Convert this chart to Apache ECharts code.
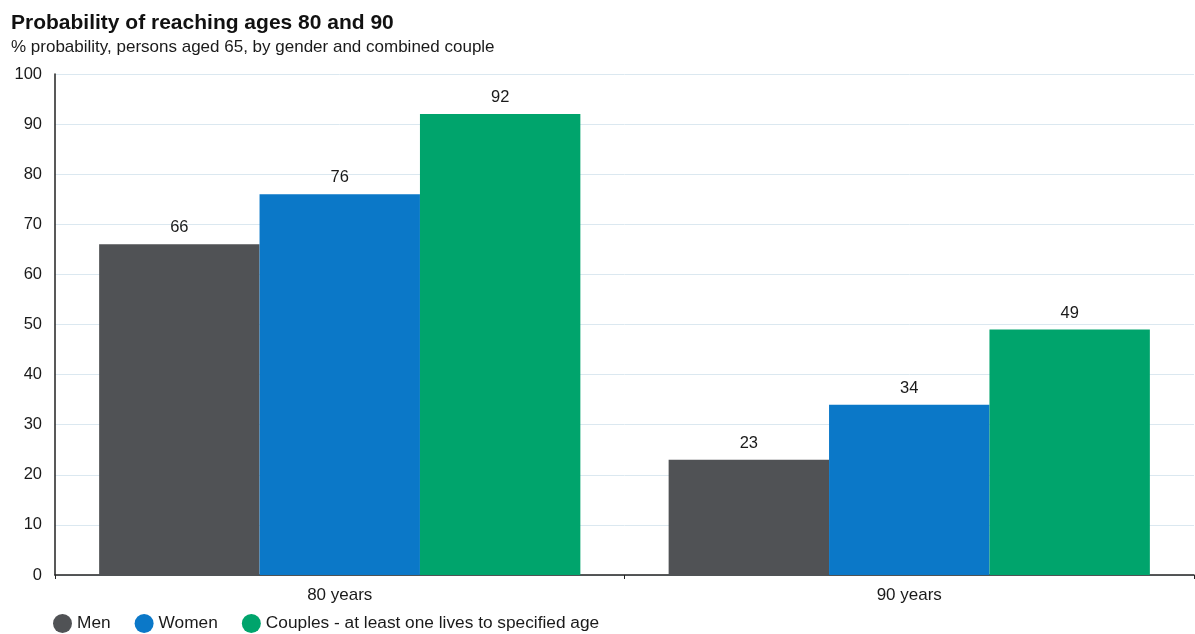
<!DOCTYPE html>
<html><head><meta charset="utf-8">
<script src="https://cdn.jsdelivr.net/npm/echarts@6/dist/echarts.min.js"></script>
<style>html,body{margin:0;padding:0;background:#fff}#c{width:1195px;height:634px}</style>
</head><body><div id="c"></div>
<script>
const categories = ['80 years', '90 years'];
const men = [66, 23];
const women = [76, 34];
const couples = [92, 49];
const seriesNames = ['Men', 'Women', 'Couples - at least one lives to specified age'];
const colors = ['#505255', '#0b78c8', '#00a46c'];

const FF = 'Liberation Sans, Arial';
const chart = echarts.init(document.getElementById('c'));
const lbl = {show: true, position: 'top', color: '#1a1a1a', fontSize: 16.5, fontFamily: FF, distance: 8};
chart.setOption({
  animation: false,
  textStyle: {fontFamily: FF},
  title: {
    text: 'Probability of reaching ages 80 and 90',
    subtext: '% probability, persons aged 65, by gender and combined couple',
    left: 6, top: 8, itemGap: 5,
    textStyle: {fontSize: 21, fontWeight: 'bold', color: '#111', fontFamily: FF},
    subtextStyle: {fontSize: 17, color: '#1a1a1a', fontFamily: FF}
  },
  legend: {
    left: 48, top: 609, itemGap: 24, itemWidth: 19, itemHeight: 19, icon: 'circle',
    textStyle: {fontSize: 17.3, color: '#1a1a1a', fontFamily: FF},
    data: seriesNames
  },
  grid: {left: 55, right: 1, top: 74, bottom: 59, containLabel: false},
  xAxis: {
    type: 'category', data: categories,
    axisLine: {lineStyle: {color: '#222', width: 1.5}},
    axisTick: {show: true, alignWithLabel: false, length: 4, lineStyle: {color: '#222'}},
    axisLabel: {fontSize: 17, color: '#1a1a1a', margin: 12}
  },
  yAxis: {
    type: 'value', min: 0, max: 100, interval: 10,
    axisLine: {show: true, lineStyle: {color: '#222', width: 1.5}},
    axisTick: {show: false},
    axisLabel: {fontSize: 16.5, color: '#1a1a1a', margin: 13},
    splitLine: {lineStyle: {color: '#dbe8f0', width: 1}}
  },
  series: [
    {name: seriesNames[0], type: 'bar', data: men, itemStyle: {color: colors[0]}, label: lbl, barGap: '0%', barCategoryGap: '15.5%'},
    {name: seriesNames[1], type: 'bar', data: women, itemStyle: {color: colors[1]}, label: lbl},
    {name: seriesNames[2], type: 'bar', data: couples, itemStyle: {color: colors[2]}, label: lbl}
  ]
});
</script></body></html>
